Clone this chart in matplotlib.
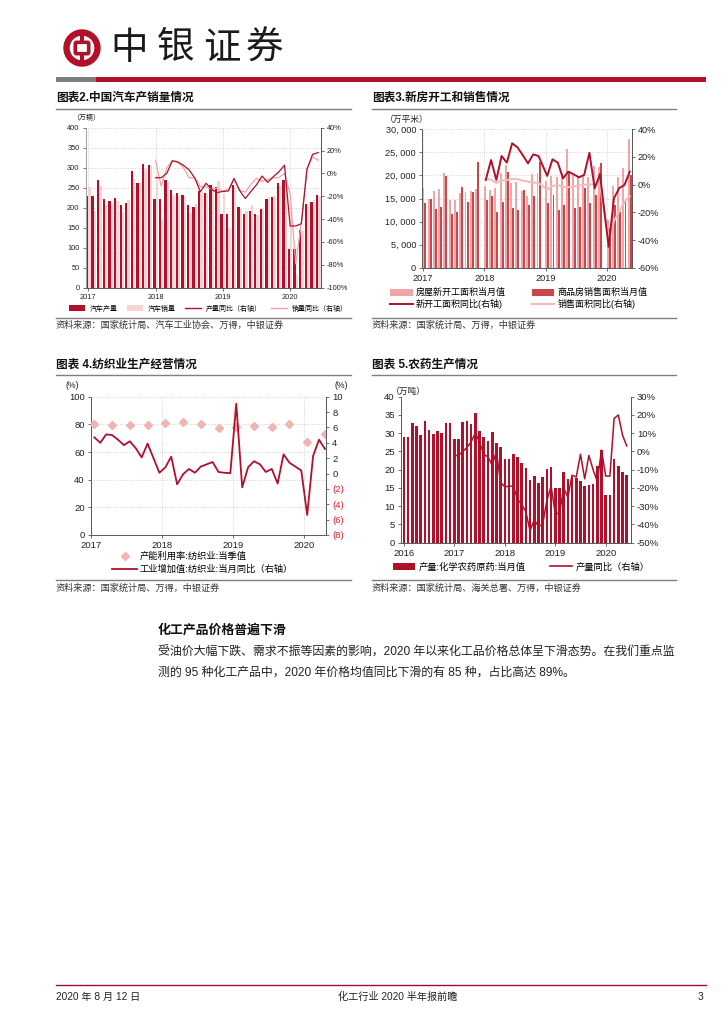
import numpy as np
import matplotlib
matplotlib.use('Agg')
import matplotlib.pyplot as plt
from matplotlib.patches import Patch, Circle, FancyBboxPatch, Rectangle
from matplotlib.lines import Line2D
from matplotlib.ticker import FuncFormatter

plt.rcParams['font.family'] = ['Liberation Sans', 'Noto Sans CJK SC', 'DejaVu Sans']
plt.rcParams['axes.unicode_minus'] = False

# ---------------- data ----------------
# Chart 1: car production / sales (万辆), Jan 2017 - Jun 2020
car_years = ['2017', '2018', '2019', '2020']
car_prod = [230, 230, 270, 221, 218, 224, 207, 213, 291, 261, 310, 306,
            221, 221, 270, 244, 238, 233, 206, 202, 242, 236, 258, 252,
            185, 185, 258, 201, 184, 193, 184, 196, 222, 227, 261, 270,
            98, 98, 145, 210, 215, 231]
car_sales = [252, 193, 254, 208, 210, 217, 189, 219, 271, 263, 297, 306,
             281, 172, 265, 232, 229, 228, 188, 210, 239, 238, 255, 266,
             237, 148, 252, 198, 191, 206, 181, 196, 227, 229, 255, 265,
             194, 31, 143, 207, 219, 230]
# yoy from Jan 2018
car_prod_yoy = [-3.8, -3.8, 0, 11, 10, 7, 3, -4, -16, -8.6, -14, -16.7,
                -15.8, -15.3, -4.3, -15, -22, -15.8, -10, -2.3, -7.8, -2.9, 1.4, 7.2,
                -46, -46, -44, 3.5, 16.7, 18.2]
car_sales_yoy = [11.6, -11.1, 4.7, 11.5, 9.6, 4.8, -4.0, -3.8, -11.6, -11.7, -13.9, -13.0,
                 -15.8, -13.8, -5.2, -14.6, -16.4, -9.6, -4.3, -6.9, -5.2, -4.0, -3.6, 0.1,
                 -18.0, -79.1, -43.3, 4.4, 14.5, 11.6]

# Chart 2: housing (万平米), Feb-Dec 2017-2019, Feb-Jun 2020
house_months = [f'{y}-{m:02d}' for y in (2017, 2018, 2019) for m in range(2, 13)] + \
               [f'2020-{m:02d}' for m in range(2, 7)]
house_new_start = [17300, 15000, 16700, 17000, 20600, 14700, 14700, 16100, 16500, 16600, 17000,
                   17800, 16850, 17280, 20460, 22270, 18290, 18650, 16700, 15550, 20240, 20600,
                   18800, 19900, 19700, 20500, 25700, 20000, 19800, 20200, 19700, 22000, 21900,
                   10400, 17800, 19600, 21700, 28000]
house_sales = [14100, 14900, 12650, 13160, 19900, 11640, 12150, 17420, 14300, 16340, 22920,
               14680, 15550, 12150, 14320, 20820, 12870, 12510, 16850, 13520, 15550, 23000,
               14100, 15800, 12400, 13500, 20700, 13000, 13100, 17300, 14000, 15700, 22600,
               8500, 13500, 12000, 14300, 20200]
# yoy from Feb 2018
house_start_yoy = [3.4, 17.8, 3.4, 20.7, 15.9, 29.9, 27.0, 21.4, 15.4, 21.9, 20.7,
                   6.3, 18.3, 15.9, 4.6, 9.4, 7.5, 5.3, 7.0, 23.0, -2.7, 7.7,
                   -44.9, -9.9, -2.5, -0.2, 9.4]
house_sales_yoy = [4.1, 3.6, 1.3, 2.9, 3.3, 4.2, 4.0, 2.9, 2.2, 1.4, 1.3,
                   -3.6, -0.9, -0.3, -1.6, -1.8, -1.3, -0.6, -0.1, 0.1, 0.2, -0.1,
                   -39.9, -26.3, -19.3, -12.3, -8.4]

# Chart 3: textile, Jan 2017 - Apr 2020
textile_years = ['2017', '2018', '2019', '2020']
textile_va_yoy = [4.7, 4.0, 5.1, 5.0, 4.4, 3.7, 4.2, 3.3, 2.1, 3.9, 2.0, 0.1,
                  0.8, 2.2, -1.4, -0.1, 0.6, 0.1, 0.9, 1.2, 1.5, 0.2, 0.1, 0.05,
                  9.1, -1.8, 0.8, 1.6, 1.2, 0.2, 0.6, -1.3, 2.5, 1.4, 0.9, 0.4,
                  -5.4, 2.3, 4.4, 3.2]
textile_util = [80.2, 79.8, 79.8, 79.8, 80.7, 81.5, 80.0, 77.6, 78.0, 78.8, 77.8, 80.0, 67.4, 73.0]

# Chart 4: pesticide (万吨), Jan 2016 - Jun 2020
pest_years = ['2016', '2017', '2018', '2019', '2020']
pest_output = [29.0, 29.0, 32.9, 32.0, 29.5, 33.4, 31.0, 29.8, 30.5, 30.0, 32.9, 32.9,
               28.3, 28.3, 33.1, 33.3, 32.5, 35.4, 30.6, 28.9, 27.9, 30.3, 27.4, 26.3,
               23.0, 23.0, 24.4, 23.5, 21.7, 20.6, 17.2, 18.2, 16.3, 17.9, 20.2, 20.7,
               15.0, 15.0, 19.3, 17.4, 17.9, 17.8, 16.9, 15.5, 15.9, 16.1, 21.0, 25.5,
               13.0, 13.0, 22.8, 21.0, 19.5, 18.6]
# yoy from Jan 2017
pest_yoy = [-2.2, -2.2, 0, 2.2, 5.3, 10.2, 5.0, -1.6, -3.0, -7.5, 0, -17.0,
            -19.4, -19.0, -19.0, -26.0, -29.0, -33.0, -43.5, -37.5, -41.0, -40.0, -27.0, -19.0,
            -34.0, -34.0, -20.0, -25.0, -13.0, -14.0, -1.5, -15.0, -2.2, -10.0, -16.4, 0.7,
            -13.5, -13.5, 18.0, 20.0, 9.0, 3.0]

# ---------------- style ----------------
RED = '#B0102A'
PINK_LIGHT = '#F6D3D5'
PINK_LINE = '#F2A2A6'
H_PINK = '#F0A6A6'
H_RED = '#C9474B'
H_LINE2 = '#F4BBBB'
SPINE = '#595959'
GRID = '#C8C8C8'
TXT = '#222222'

W, H = 724, 1024
fig = plt.figure(figsize=(W / 100, H / 100), dpi=100)
fig.patch.set_facecolor('white')


def X(px):
    return px / W


def Y(py):
    return 1 - py / H


def add_ax(l, t, r, b):
    return fig.add_axes([X(l), Y(b), (r - l) / W, (b - t) / H])


def hline(x0, x1, y, color='#7F7F7F', lw=1.0):
    fig.add_artist(Line2D([X(x0), X(x1)], [Y(y), Y(y)], color=color, lw=lw))


def style_axes(ax, size):
    ax.spines['top'].set_visible(False)
    for s in ['left', 'right', 'bottom']:
        ax.spines[s].set_color(SPINE)
        ax.spines[s].set_linewidth(0.7)
    ax.tick_params(length=2.5, width=0.6, color=SPINE, labelsize=size, labelcolor=TXT, pad=2)


# ---------------- header ----------------
axl = add_ax(60, 26, 104, 70)
axl.set_xlim(0, 44)
axl.set_ylim(44, 0)
axl.axis('off')
axl.add_patch(Circle((22, 22), 15.5, fill=False, ec=RED, lw=4.6))
axl.add_patch(Rectangle((20.2, 5), 3.6, 12, color=RED, lw=0))
axl.add_patch(Rectangle((20.2, 27), 3.6, 12, color=RED, lw=0))
axl.add_patch(FancyBboxPatch((16.5, 17.5), 11, 9, boxstyle='round,pad=1.2', fill=False, ec=RED, lw=2.6))

for ch, cx in zip('中银证券', [129, 176, 222, 265]):
    fig.text(X(cx), Y(48), ch, fontsize=27, ha='center', va='center', color='#1A1A1A',
             family=['Noto Sans CJK SC'])
fig.add_artist(Rectangle((X(56), Y(82)), X(96) - X(56), 5 / H, color='#7F7F7F', lw=0))
fig.add_artist(Rectangle((X(96), Y(82)), X(706) - X(96), 5 / H, color=RED, lw=0))

# ---------------- chart 1 ----------------
fig.text(X(56), Y(98), '图表2.中国汽车产销量情况', fontsize=8.4, fontweight='bold', va='center', color='#111111')
hline(56, 351, 108.5)
fig.text(X(72), Y(118), '（万辆）', fontsize=5, va='center', color=TXT)

ax1 = add_ax(85.7, 127.7, 320.7, 287.7)
n1 = len(car_prod)
i1 = np.arange(n1)
ax1.bar(i1 - 0.21, car_prod, width=0.42, color=RED, zorder=2, lw=0)
ax1.bar(i1 + 0.21, car_sales, width=0.42, color=PINK_LIGHT, zorder=2, lw=0)
ax1.set_ylim(0, 400)
ax1.set_yticks(np.arange(0, 401, 50))
ax1.set_xlim(-0.45, n1 - 0.55)
ax1.set_xticks(np.arange(0, n1, 12))
ax1.set_xticklabels(car_years)
ax1.grid(True, ls=':', color=GRID, lw=0.6, zorder=0)
style_axes(ax1, 5.3)
ax1.spines['left'].set_color('#A0A0A0')
ax1b = ax1.twinx()
i1y = i1[n1 - len(car_prod_yoy):]
ax1b.plot(i1y, car_sales_yoy, color=PINK_LINE, lw=0.9)
ax1b.plot(i1y, car_prod_yoy, color=RED, lw=0.9)
ax1b.set_ylim(-100, 40)
ax1b.set_yticks(np.arange(-100, 41, 20))
ax1b.yaxis.set_major_formatter(FuncFormatter(lambda v, p: f'{v:.0f}%'))
style_axes(ax1b, 5.3)
ax1b.spines['left'].set_visible(False)
ax1b.spines['bottom'].set_visible(False)

h1 = [Patch(fc=RED), Patch(fc=PINK_LIGHT), Line2D([], [], color=RED, lw=1), Line2D([], [], color=PINK_LINE, lw=1)]
fig.legend(h1, ['汽车产量', '汽车销量', '产量同比（右轴）', '销量同比（右轴）'], loc='center left',
           bbox_to_anchor=(X(69), Y(309)), ncol=4, frameon=False, fontsize=5, handlelength=2.3,
           handleheight=0.9, handletextpad=0.7, columnspacing=1.3, borderpad=0, borderaxespad=0)
hline(56, 351, 318.3)
fig.text(X(56), Y(325.5), '资料来源：国家统计局、汽车工业协会、万得，中银证券', fontsize=6.6, va='center', color='#333333')

# ---------------- chart 2 ----------------
fig.text(X(372), Y(98), '图表3.新房开工和销售情况', fontsize=8.4, fontweight='bold', va='center', color='#111111')
hline(372, 676, 108.5)
fig.text(X(385), Y(119), '（万平米）', fontsize=6.3, va='center', color=TXT)

ax2 = add_ax(422.3, 129.3, 631.7, 267.7)
hp = np.array([12 * (int(s[:4]) - 2017) + 0.3 + (int(s[5:]) - 2) * 1.03 for s in house_months])
ax2.bar(hp - 0.2, house_new_start, width=0.38, color=H_PINK, zorder=2, lw=0)
ax2.bar(hp + 0.2, house_sales, width=0.38, color=H_RED, zorder=2, lw=0)
ax2.set_ylim(0, 30000)
ax2.set_yticks(np.arange(0, 30001, 5000))
ax2.yaxis.set_major_formatter(FuncFormatter(lambda v, p: '0' if v == 0 else f'{int(v) // 1000}, {int(v) % 1000:03d}'))
ax2.set_xlim(-0.1, 40.8)
ax2.set_xticks([0, 12, 24, 36])
ax2.set_xticklabels(['2017', '2018', '2019', '2020'])
ax2.grid(True, ls=':', color=GRID, lw=0.6, zorder=0)
style_axes(ax2, 6.6)
ax2b = ax2.twinx()
hpy = hp[len(hp) - len(house_start_yoy):]
ax2b.plot(hpy, house_sales_yoy, color=H_LINE2, lw=1.5)
ax2b.plot(hpy, house_start_yoy, color=RED, lw=1.4)
ax2b.set_ylim(-60, 40)
ax2b.set_yticks(np.arange(-60, 41, 20))
ax2b.yaxis.set_major_formatter(FuncFormatter(lambda v, p: f'{v:.0f}%'))
style_axes(ax2b, 6.6)
ax2b.spines['left'].set_visible(False)
ax2b.spines['bottom'].set_visible(False)

h2 = [Patch(fc=H_PINK), Patch(fc=H_RED), Line2D([], [], color=RED, lw=1.4), Line2D([], [], color=H_LINE2, lw=1.5)]
l2 = ['房屋新开工面积当月值', '新开工面积同比(右轴)', '商品房销售面积当月值', '销售面积同比(右轴)']
fig.legend([h2[0], h2[2], h2[1], h2[3]], l2, loc='center left',
           bbox_to_anchor=(X(390), Y(298.5)), ncol=2, frameon=False, fontsize=6.5, handlelength=2.5,
           handleheight=0.8, handletextpad=0.35, columnspacing=2.9, labelspacing=0.2, borderpad=0, borderaxespad=0)
hline(372, 676, 318.3)
fig.text(X(372), Y(325.5), '资料来源：国家统计局、万得，中银证券', fontsize=6.6, va='center', color='#333333')

# ---------------- chart 3 ----------------
fig.text(X(56), Y(365), '图表 4.纺织业生产经营情况', fontsize=8.4, fontweight='bold', va='center', color='#111111')
hline(56, 351, 375)
fig.text(X(72), Y(385), '(%)', fontsize=6.3, va='center', ha='center', color=TXT)
fig.text(X(341), Y(385), '(%)', fontsize=6.3, va='center', ha='center', color=TXT)

ax3 = add_ax(91, 396.7, 326, 535)
n3 = len(textile_va_yoy)
p3 = np.arange(n3) + 0.57
ax3.plot(p3[::3], textile_util, ls='none', marker='D', ms=3.6, color='#F2B3B3', zorder=3)
ax3.set_ylim(0, 100)
ax3.set_yticks(np.arange(0, 101, 20))
ax3.set_xlim(0, 39.75)
ax3.set_xticks([0, 12, 24, 36])
ax3.set_xticklabels(textile_years)
ax3.grid(True, ls=':', color=GRID, lw=0.6, zorder=0)
style_axes(ax3, 6.8)
ax3b = ax3.twinx()
ax3b.plot(p3, textile_va_yoy, color=RED, lw=1.3)
ax3b.set_ylim(-8, 10)
r3 = np.arange(-8, 11, 2)
ax3b.set_yticks(r3)
ax3b.set_yticklabels([f'({-v})' if v < 0 else f'{v}' for v in r3])
style_axes(ax3b, 6.8)
for lbl, v in zip(ax3b.get_yticklabels(), r3):
    if v < 0:
        lbl.set_color('#E8202A')
ax3b.spines['left'].set_visible(False)
ax3b.spines['bottom'].set_visible(False)

h3 = [Line2D([], [], ls='none', marker='D', ms=3.6, color='#F2B3B3'), Line2D([], [], color=RED, lw=1.3)]
fig.legend(h3, ['产能利用率:纺织业:当季值', '工业增加值:纺织业:当月同比（右轴）'], loc='upper left',
           bbox_to_anchor=(X(112), Y(552)), ncol=1, frameon=False, fontsize=6.7, handlelength=2.7,
           handletextpad=0.3, labelspacing=0.38, borderpad=0, borderaxespad=0)
hline(56, 351, 580)
fig.text(X(56), Y(588.5), '资料来源：国家统计局、万得，中银证券', fontsize=6.6, va='center', color='#333333')

# ---------------- chart 4 ----------------
fig.text(X(372), Y(365), '图表 5.农药生产情况', fontsize=8.4, fontweight='bold', va='center', color='#111111')
hline(372, 676, 375)
fig.text(X(391), Y(391), '（万吨）', fontsize=6.3, va='center', color=TXT)

ax4 = add_ax(401, 396.7, 630.7, 542.7)
n4 = len(pest_output)
i4 = np.arange(n4)
ax4.bar(i4, pest_output, width=0.62, color=RED, zorder=2, lw=0)
ax4.set_ylim(0, 40)
ax4.set_yticks(np.arange(0, 41, 5))
ax4.set_xlim(-0.7, n4 - 0.05)
ax4.set_xticks(np.arange(0, n4, 12))
ax4.set_xticklabels(pest_years)
style_axes(ax4, 6.8)
ax4b = ax4.twinx()
ax4b.plot(i4[n4 - len(pest_yoy):], pest_yoy, color=RED, lw=1.1)
ax4b.set_ylim(-50, 30)
ax4b.set_yticks(np.arange(-50, 31, 10))
ax4b.yaxis.set_major_formatter(FuncFormatter(lambda v, p: f'{v:.0f}%'))
style_axes(ax4b, 6.8)
ax4b.spines['left'].set_visible(False)
ax4b.spines['bottom'].set_visible(False)

h4 = [Patch(fc=RED), Line2D([], [], color=RED, lw=1.2)]
fig.legend(h4, ['产量:化学农药原药:当月值', '产量同比（右轴）'], loc='center left',
           bbox_to_anchor=(X(393), Y(566.7)), ncol=2, frameon=False, fontsize=6.7, handlelength=2.4,
           handleheight=0.8, handletextpad=0.35, columnspacing=2.6, borderpad=0, borderaxespad=0)
hline(372, 676, 580)
fig.text(X(372), Y(588.5), '资料来源：国家统计局、海关总署、万得，中银证券', fontsize=6.6, va='center', color='#333333')

# ---------------- body text ----------------
fig.text(X(158), Y(630), '化工产品价格普遍下滑', fontsize=9.3, fontweight='bold', va='center', color='#111111')
fig.text(X(158), Y(653), '受油价大幅下跌、需求不振等因素的影响，2020 年以来化工品价格总体呈下滑态势。在我们重点监',
         fontsize=8.6, va='center', color=TXT)
fig.text(X(158), Y(673), '测的 95 种化工产品中，2020 年价格均值同比下滑的有 85 种，占比高达 89%。',
         fontsize=8.6, va='center', color=TXT)

# ---------------- footer ----------------
hline(56, 706, 985, color='#A0102A', lw=1.0)
fig.text(X(56), Y(997), '2020 年 8 月 12 日', fontsize=7.3, va='center', color=TXT)
fig.text(X(398), Y(997), '化工行业 2020 半年报前瞻', fontsize=7.3, va='center', ha='center', color=TXT)
fig.text(X(703), Y(997), '3', fontsize=7.3, va='center', ha='right', color=TXT)

fig.savefig('out.png', dpi=100, facecolor='white')
